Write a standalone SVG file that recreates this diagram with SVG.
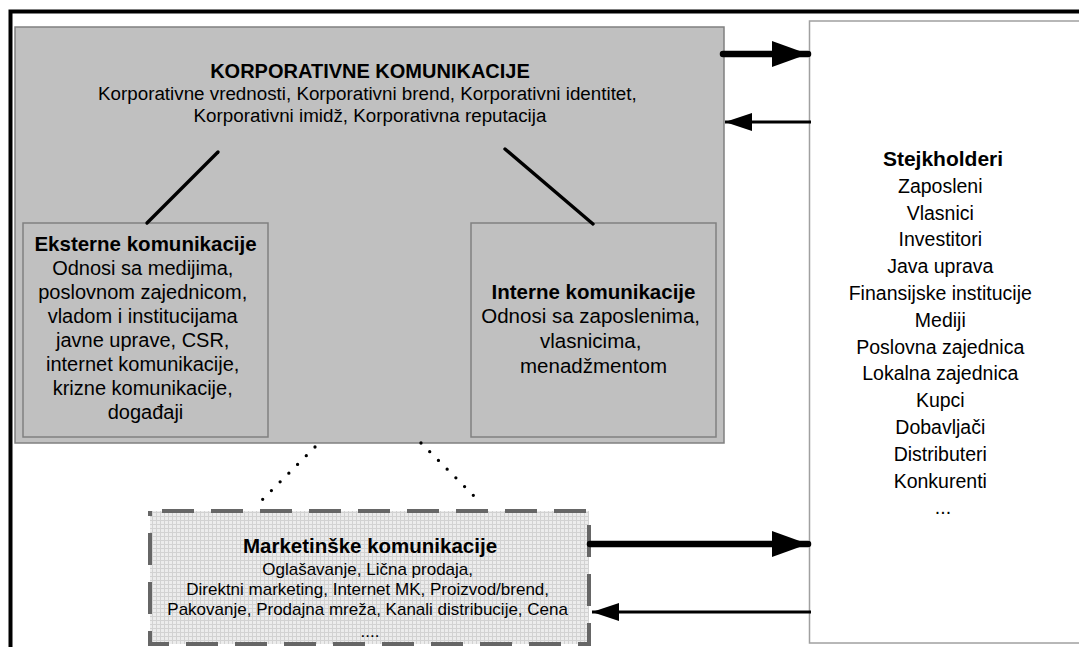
<svg xmlns="http://www.w3.org/2000/svg" width="1079" height="647" viewBox="0 0 1079 647">
<style>
text{font-family:"Liberation Sans",Arial,sans-serif;fill:#000;text-anchor:middle}
.b{font-weight:bold}
.grey{fill:#c0c0c0;stroke:#808080;stroke-width:1.5}
.thick{stroke:#000;stroke-width:6.5;stroke-linecap:round;fill:none}
.thin{stroke:#000;stroke-width:3.2;fill:none}
.diag{stroke:#000;stroke-width:3.4;stroke-linecap:round}
.dots{stroke:#000;stroke-width:3.3;stroke-linecap:round;stroke-dasharray:0 12.33;fill:none}
</style>
<defs>
<pattern id="grid" width="4" height="4" patternUnits="userSpaceOnUse">
<rect width="4" height="4" fill="#ececec"/>
<path d="M0,0.5H4M0.5,0V4" stroke="#d2d2d2" stroke-width="1"/>
</pattern>
<marker id="bigHead" markerUnits="userSpaceOnUse" markerWidth="36" markerHeight="26" refX="36" refY="13" orient="auto">
<path d="M0,0L36,13L0,26Z" fill="#000"/>
</marker>
<marker id="smallHead" markerUnits="userSpaceOnUse" markerWidth="27" markerHeight="18" refX="27" refY="9" orient="auto">
<path d="M0,0L27,9L0,18Z" fill="#000"/>
</marker>
</defs>
<rect width="1079" height="647" fill="#fff"/>
<path d="M10.5,647V11.5H1079" fill="none" stroke="#000" stroke-width="4"/>

<g id="stejkholderi">
<rect x="809.5" y="21" width="300" height="622" fill="#fff" stroke="#a0a0a0" stroke-width="1.5"/>
<text x="943" y="166" class="b" font-size="21">Stejkholderi</text>
<text x="943" font-size="19.5">
<tspan x="943" y="192.8">Zaposleni</tspan>
<tspan x="943" y="219.6">Vlasnici</tspan>
<tspan x="943" y="246.4">Investitori</tspan>
<tspan x="943" y="273.2">Java uprava</tspan>
<tspan x="943" y="300">Finansijske institucije</tspan>
<tspan x="943" y="326.8">Mediji</tspan>
<tspan x="943" y="353.6">Poslovna zajednica</tspan>
<tspan x="943" y="380.4">Lokalna zajednica</tspan>
<tspan x="943" y="407.2">Kupci</tspan>
<tspan x="943" y="434">Dobavljači</tspan>
<tspan x="943" y="460.8">Distributeri</tspan>
<tspan x="943" y="487.6">Konkurenti</tspan>
<tspan x="943" y="514.4">...</tspan>
</text>
</g>

<g id="korporativne">
<rect x="15" y="27" width="709" height="416" class="grey"/>
<text x="370" y="78" class="b" font-size="20">KORPORATIVNE KOMUNIKACIJE</text>
<text font-size="18.8">
<tspan x="370" y="100">Korporativne vrednosti, Korporativni brend, Korporativni identitet,</tspan>
<tspan x="370" y="122">Korporativni imidž, Korporativna reputacija</tspan>
</text>
</g>

<g id="eksterne">
<rect x="23" y="223" width="245" height="214" class="grey"/>
<text x="145.5" y="251" class="b" font-size="20.5">Eksterne komunikacije</text>
<text font-size="20">
<tspan x="145.5" y="275">Odnosi sa medijima,</tspan>
<tspan x="145.5" y="299">poslovnom zajednicom,</tspan>
<tspan x="145.5" y="323">vladom i institucijama</tspan>
<tspan x="145.5" y="347">javne uprave, CSR,</tspan>
<tspan x="145.5" y="371">internet komunikacije,</tspan>
<tspan x="145.5" y="395">krizne komunikacije,</tspan>
<tspan x="145.5" y="419">događaji</tspan>
</text>
</g>

<g id="interne">
<rect x="471" y="223" width="245" height="214" class="grey"/>
<text x="593.5" y="299" class="b" font-size="20.5">Interne komunikacije</text>
<text font-size="20.5">
<tspan x="593.5" y="323">Odnosi sa zaposlenima,</tspan>
<tspan x="593.5" y="348">vlasnicima,</tspan>
<tspan x="593.5" y="373">menadžmentom</tspan>
</text>
</g>

<g id="marketinske">
<rect x="150" y="511" width="439" height="133" fill="url(#grid)" stroke="#666" stroke-width="4" stroke-dasharray="32 17" stroke-dashoffset="-12"/>
<text x="370" y="553" class="b" font-size="20.5">Marketinške komunikacije</text>
<text font-size="17">
<tspan x="370" y="575">Oglašavanje, Lična prodaja,</tspan>
<tspan x="370" y="595">Direktni marketing, Internet MK, Proizvod/brend,</tspan>
<tspan x="370" y="615">Pakovanje, Prodajna mreža, Kanali distribucije, Cena</tspan>
<tspan x="370" y="637">....</tspan>
</text>
</g>

<g id="connectors">
<line x1="218" y1="152" x2="147" y2="223" class="diag"/>
<line x1="505" y1="149" x2="593" y2="224" class="diag"/>
<line x1="315" y1="447" x2="254" y2="508" class="dots"/>
<line x1="421" y1="443" x2="481" y2="503" class="dots"/>
<line x1="723" y1="54" x2="808" y2="54" class="thick" marker-end="url(#bigHead)"/>
<line x1="811" y1="122" x2="725" y2="122" class="thin" marker-end="url(#smallHead)"/>
<line x1="590" y1="544" x2="808" y2="544" class="thick" marker-end="url(#bigHead)"/>
<line x1="811" y1="612" x2="592" y2="612" class="thin" marker-end="url(#smallHead)"/>
</g>
</svg>
